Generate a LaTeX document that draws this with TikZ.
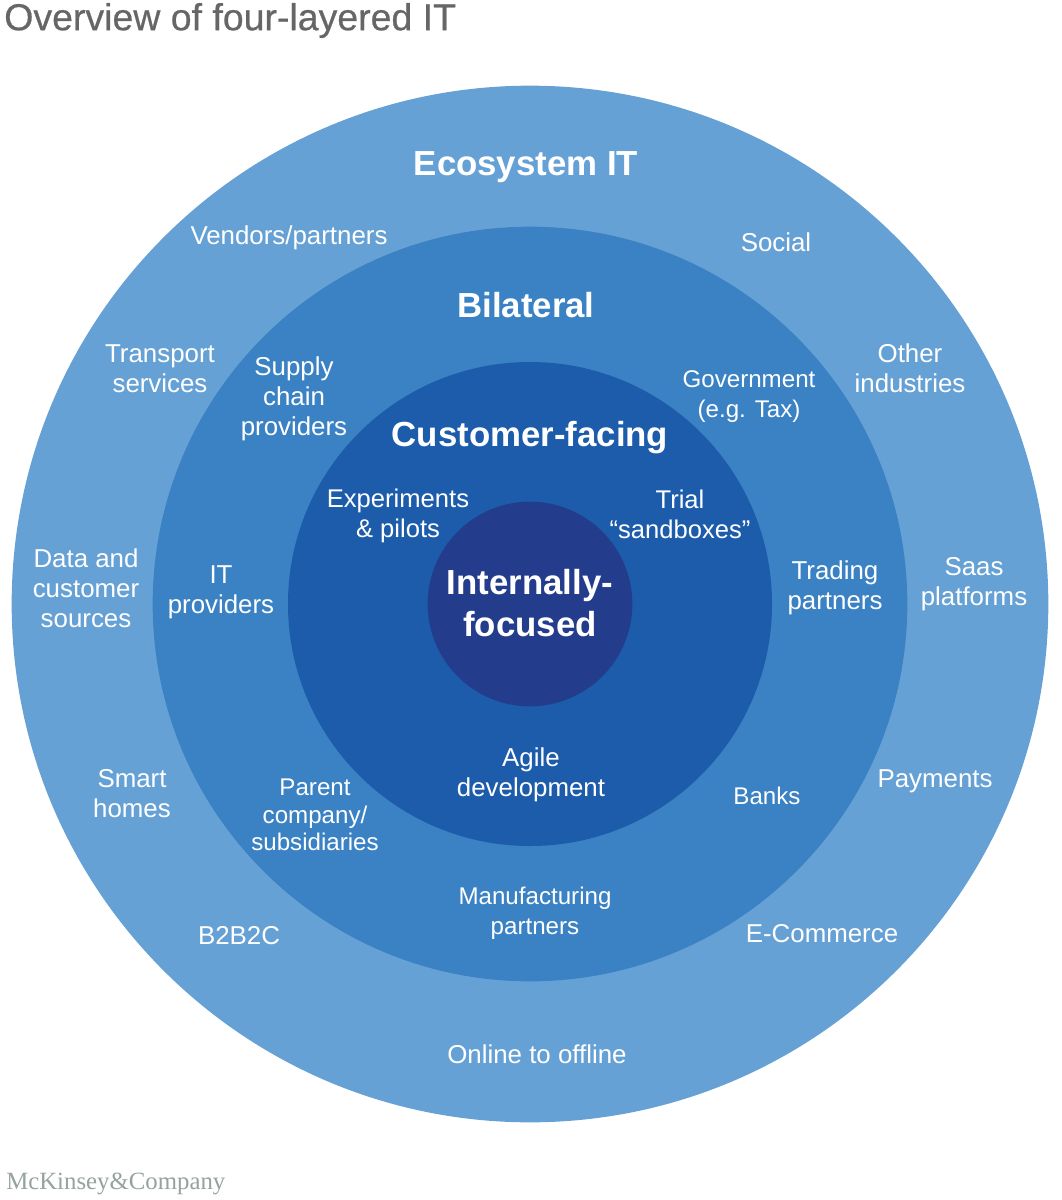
\documentclass[tikz,border=0pt]{standalone}
\usepackage{fontspec}
\setmainfont{Liberation Sans}
\newfontfamily\logofont{Liberation Serif}
\newfontfamily\titlefont[FakeBold=0.6]{Liberation Sans}
\definecolor{ringA}{HTML}{66A1D6}
\definecolor{ringB}{HTML}{3A82C4}
\definecolor{ringC}{HTML}{1C5CAB}
\definecolor{ringD}{HTML}{233C8C}
\definecolor{titlegrey}{HTML}{666666}
\definecolor{logogrey}{HTML}{94A3A0}
\tikzset{
  ring/.style={circle,inner sep=0pt,outer sep=0pt,minimum size=#1*1pt},
  lbl/.style={text=white,align=center,font=\fontsize{19.4}{22.5}\selectfont,inner sep=0pt},
  lblsmall/.style={lbl,font=\fontsize{18.1}{22.6}\selectfont},
  head/.style={text=white,align=center,font=\fontsize{26.1}{30}\bfseries\selectfont,inner sep=0pt},
}
\begin{document}
\begin{tikzpicture}[x=0.75pt,y=-0.75pt]
\useasboundingbox (0,0) rectangle (1061,1200);
\node[ring=777.5,fill=ringA] (ringa) at (530,604) {};
\node[ring=566,fill=ringB] (ringb) at (530,604) {};
\node[ring=363,fill=ringC] (ringc) at (530,604) {};
\node[ring=153.5,fill=ringD] (ringd) at (530,604) {};
\node[anchor=west,inner sep=0pt,text=titlegrey,font=\titlefont\fontsize{28.1}{32}\selectfont] (title) at (4,20.5) {Overview of four-layered IT};
\node[anchor=west,inner sep=0pt,text=logogrey,font=\logofont\fontsize{18.6}{22}\selectfont] (logo) at (6,1184) {McKinsey\&Company};
\node[head] (h1) at (526,167) {Ecosystem IT};
\node[head] (h2) at (526,305) {Bilateral};
\node[head] (h3) at (530,438) {Customer-facing};
\node[head,font=\fontsize{26.1}{31.5}\bfseries\selectfont] (h4) at (530,603) {Internally-\\focused};
\node[lbl] (a1) at (289,238) {Vendors/partners};
\node[lbl] (a2) at (776,242) {Social};
\node[lbl] (a3) at (160,369) {Transport\\services};
\node[lbl] (a4) at (910,368) {Other\\industries};
\node[lbl] (a5) at (86,588) {Data and\\customer\\sources};
\node[lbl] (a6) at (974,584) {Saas\\platforms};
\node[lbl] (a7) at (132,794) {Smart\\homes};
\node[lbl] (a8) at (935,781) {Payments};
\node[lbl] (a9) at (239,936) {B2B2C};
\node[lbl] (a10) at (822,934) {E-Commerce};
\node[lbl] (a11) at (537,1054) {Online to offline};
\node[lbl] (b1) at (294,399) {Supply\\chain\\providers};
\node[lblsmall] (b2) at (749,397) {Government\\(e.g. Tax)};
\node[lbl] (b3) at (221,592) {IT\\providers};
\node[lbl] (b4) at (835,587.5) {Trading\\partners};
\node[lblsmall,font=\fontsize{18.1}{20.5}\selectfont] (b5) at (315,815) {Parent\\company/\\subsidiaries};
\node[lblsmall] (b6) at (767,796) {Banks};
\node[lblsmall] (b7) at (535,913) {Manufacturing\\partners};
\node[lbl,font=\fontsize{19.2}{22.5}\selectfont] (c1) at (398,516) {Experiments\\\& pilots};
\node[lbl,font=\fontsize{19.2}{22.5}\selectfont] (c2) at (680,514) {Trial\\“sandboxes”};
\node[lbl] (c3) at (531,775) {Agile\\development};
\end{tikzpicture}
\end{document}
